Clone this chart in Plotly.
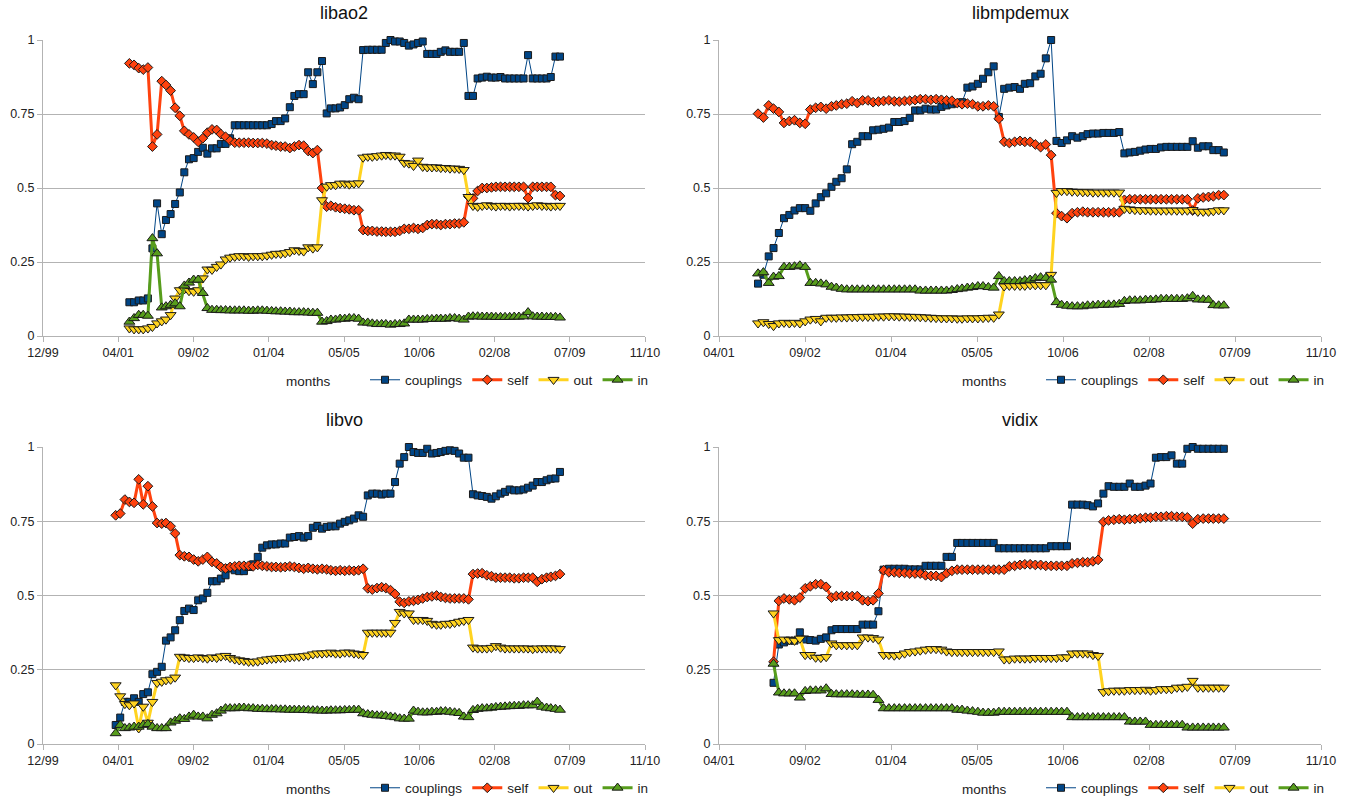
import pandas as pd
import plotly.graph_objects as go

# ---------------------------------------------------------------- data
TICK_LABELS = ["12/99", "04/01", "09/02", "01/04", "05/05", "10/06", "02/08", "07/09", "11/10"]
SERIES_NAMES = ["couplings", "self", "out", "in"]

# libao2: monthly from 2001-07
libao2_start = "2001-07-01"
libao2_couplings = [
    0.114, 0.114, 0.12, 0.12, 0.127,
    0.296, 0.448, 0.344, 0.392, 0.412, 0.446, 0.485,
    0.553, 0.597, 0.601, 0.622, 0.636, 0.616, 0.634, 0.634, 0.649, 0.649, 0.668,
    0.712, 0.712, 0.712, 0.712, 0.712, 0.712, 0.712, 0.712,
    0.716, 0.726, 0.726, 0.735,
    0.773, 0.811, 0.817, 0.817, 0.891, 0.851, 0.891, 0.929, 0.752,
    0.769, 0.769, 0.772, 0.78, 0.80, 0.805, 0.80,
    0.966, 0.967, 0.967, 0.967, 0.967,
    0.99, 1.0, 0.995, 0.995, 0.99, 0.981, 0.985, 0.99, 0.995,
    0.953, 0.953, 0.953, 0.96, 0.965, 0.96, 0.96, 0.96, 0.99,
    0.811, 0.811,
    0.87, 0.873, 0.876, 0.873, 0.873, 0.875, 0.87, 0.87, 0.87, 0.87, 0.87,
    0.949,
    0.87, 0.87, 0.87, 0.87, 0.875,
    0.944, 0.944,
]
libao2_self = [
    0.921, 0.916, 0.905, 0.90, 0.907,
    0.640, 0.681, 0.861, 0.848, 0.829, 0.771, 0.744, 0.693, 0.681, 0.671, 0.656, 0.668,
    0.687, 0.698, 0.696, 0.682, 0.673, 0.66,
    0.653, 0.653, 0.653, 0.653, 0.652, 0.652, 0.652, 0.65,
    0.645, 0.643, 0.64, 0.64, 0.635, 0.64, 0.645, 0.643, 0.625, 0.618, 0.628,
    0.5,
    0.437, 0.44, 0.435, 0.432, 0.43, 0.428, 0.425, 0.425,
    0.358, 0.355, 0.355, 0.353, 0.353, 0.352, 0.352, 0.352, 0.355,
    0.362, 0.362, 0.365, 0.362, 0.365,
    0.375, 0.378, 0.378, 0.375, 0.378, 0.378, 0.38, 0.38, 0.384,
    0.471, 0.465,
    0.49, 0.50, 0.50, 0.502, 0.504, 0.504, 0.504, 0.504, 0.504, 0.504, 0.504,
    0.466,
    0.504, 0.504, 0.504, 0.504, 0.504,
    0.476, 0.473,
]
libao2_out = [
    0.026, 0.023, 0.023, 0.023, 0.026,
    0.031, 0.043, 0.05, 0.056, 0.071, 0.127, 0.155, 0.158, 0.152, 0.15, 0.155, 0.195,
    0.225, 0.224, 0.234, 0.242, 0.259,
    0.265, 0.268, 0.27, 0.27, 0.268, 0.27, 0.27, 0.27, 0.272,
    0.275, 0.278, 0.278, 0.28, 0.284, 0.29, 0.288, 0.286, 0.3, 0.296, 0.3,
    0.459,
    0.505, 0.51, 0.51, 0.515, 0.515, 0.512, 0.515, 0.516,
    0.603, 0.606, 0.606, 0.608, 0.61, 0.612, 0.61, 0.61, 0.606,
    0.585, 0.583, 0.575, 0.593, 0.572,
    0.57, 0.57, 0.57, 0.568, 0.568, 0.566, 0.566, 0.565, 0.561,
    0.47,
    0.44, 0.437, 0.44, 0.442, 0.44, 0.438, 0.44, 0.44, 0.438, 0.44,
    0.44, 0.44, 0.438, 0.44, 0.442, 0.44, 0.44, 0.438, 0.44, 0.44,
]
libao2_in = [
    0.048, 0.06, 0.071, 0.071, 0.068,
    0.33, 0.279,
    0.096, 0.1, 0.105, 0.11, 0.10, 0.17, 0.18, 0.19, 0.19, 0.145, 0.094,
    0.088, 0.088, 0.087, 0.087, 0.086, 0.086, 0.086, 0.086, 0.085, 0.085, 0.086, 0.086, 0.085,
    0.084, 0.083, 0.083, 0.082, 0.082, 0.08, 0.08, 0.08, 0.079, 0.078, 0.078,
    0.048,
    0.05, 0.055, 0.055, 0.058, 0.058, 0.06, 0.06, 0.058,
    0.045, 0.045, 0.042, 0.04, 0.04, 0.04, 0.038, 0.04, 0.04, 0.042,
    0.055, 0.055, 0.055, 0.055, 0.057, 0.057, 0.058, 0.058, 0.058, 0.06, 0.06, 0.058, 0.055,
    0.065, 0.066, 0.066, 0.065, 0.065, 0.065, 0.064, 0.064, 0.064, 0.064, 0.065,
    0.065, 0.066, 0.08, 0.066, 0.065, 0.065, 0.064, 0.064, 0.064, 0.062,
]

# libmpdemux: monthly from 2001-12
libmpdemux_start = "2001-12-01"
libmpdemux_couplings = [
    0.177, 0.207, 0.269, 0.297, 0.348, 0.398, 0.409, 0.424, 0.432, 0.432, 0.423, 0.448,
    0.469, 0.482, 0.504, 0.521,
    0.533, 0.563, 0.648, 0.656, 0.675, 0.675, 0.695, 0.697, 0.70, 0.704, 0.723, 0.723,
    0.726, 0.737, 0.762, 0.762, 0.768, 0.765, 0.765, 0.774, 0.779, 0.783, 0.787, 0.79,
    0.839, 0.843, 0.852, 0.869, 0.891, 0.911, 0.74,
    0.835, 0.839, 0.841, 0.835, 0.852, 0.854, 0.877, 0.886, 0.938, 1.0,
    0.659, 0.652, 0.661, 0.675, 0.67, 0.675, 0.682, 0.684, 0.684, 0.686, 0.686, 0.686, 0.689,
    0.617, 0.62, 0.622, 0.626, 0.63, 0.632, 0.632, 0.637, 0.639, 0.639, 0.639, 0.639, 0.639,
    0.658, 0.636, 0.641, 0.641, 0.628, 0.628, 0.62,
]
libmpdemux_self = [
    0.751, 0.738, 0.779, 0.768, 0.757, 0.72, 0.726, 0.729, 0.72, 0.717, 0.765, 0.771,
    0.774, 0.768, 0.776, 0.779, 0.783, 0.785, 0.793, 0.787, 0.796, 0.796, 0.79,
    0.792, 0.794, 0.796, 0.793, 0.792, 0.794, 0.795, 0.797, 0.80, 0.80, 0.798, 0.80,
    0.798, 0.796, 0.795, 0.787, 0.783, 0.785, 0.783, 0.776, 0.776, 0.779, 0.776,
    0.734, 0.656, 0.652, 0.656, 0.659, 0.656, 0.656, 0.647, 0.638, 0.647, 0.611,
    0.415, 0.405, 0.398, 0.415, 0.418, 0.42, 0.418, 0.418, 0.418, 0.418, 0.418, 0.418, 0.418,
    0.46, 0.462, 0.462, 0.462, 0.462, 0.462, 0.462, 0.462, 0.462, 0.462, 0.462, 0.462, 0.462,
    0.424,
    0.465, 0.468, 0.47, 0.472, 0.476, 0.476,
]
libmpdemux_out = [
    0.043, 0.047, 0.041, 0.034, 0.043, 0.045, 0.043, 0.045, 0.043, 0.05, 0.056, 0.058,
    0.05, 0.062,
    0.062, 0.062, 0.063, 0.063, 0.064, 0.064, 0.065, 0.065, 0.065, 0.066, 0.066, 0.067,
    0.067, 0.066, 0.066, 0.065, 0.065, 0.064, 0.063, 0.062, 0.061, 0.06, 0.06, 0.06,
    0.059, 0.059, 0.06, 0.06, 0.06, 0.061, 0.062, 0.062,
    0.073,
    0.168, 0.17, 0.17, 0.17, 0.17, 0.172, 0.172, 0.172, 0.172,
    0.207,
    0.484, 0.49, 0.49, 0.488, 0.487, 0.486, 0.486, 0.485, 0.485, 0.485, 0.485, 0.485, 0.485,
    0.43, 0.428, 0.426, 0.425, 0.425, 0.424, 0.424, 0.424, 0.424, 0.424, 0.424, 0.424,
    0.424, 0.426, 0.42, 0.42, 0.42, 0.422, 0.425, 0.425,
]
libmpdemux_in = [
    0.211, 0.215, 0.179, 0.20, 0.202, 0.233, 0.233, 0.235, 0.238, 0.233, 0.179, 0.179,
    0.177, 0.174, 0.166, 0.163, 0.159,
    0.157, 0.157, 0.157, 0.157, 0.157, 0.157, 0.157, 0.157, 0.157, 0.157, 0.157, 0.157,
    0.157, 0.157,
    0.153, 0.153, 0.153, 0.153, 0.153, 0.153,
    0.155, 0.158, 0.16, 0.163, 0.165, 0.168, 0.168, 0.165, 0.163,
    0.202,
    0.185, 0.185, 0.185, 0.185, 0.188, 0.19, 0.195, 0.198, 0.196, 0.19,
    0.114, 0.105, 0.102, 0.1, 0.1, 0.1, 0.103, 0.103, 0.105, 0.105, 0.106, 0.106, 0.108,
    0.118, 0.12, 0.12, 0.12, 0.122, 0.122, 0.123, 0.125, 0.125, 0.125, 0.125, 0.125, 0.127,
    0.135,
    0.123, 0.123, 0.122, 0.104, 0.103, 0.103,
]

# libvo: monthly from 2001-04
libvo_start = "2001-04-01"
libvo_couplings = [
    0.064, 0.089, 0.142, 0.142, 0.154, 0.142, 0.168, 0.174, 0.235, 0.243, 0.26, 0.348,
    0.359, 0.383, 0.417, 0.448, 0.456, 0.451, 0.484, 0.49, 0.509, 0.548, 0.548, 0.557, 0.568,
    0.591, 0.585, 0.582, 0.582, 0.596, 0.605, 0.63, 0.661, 0.669, 0.672, 0.672, 0.675,
    0.675, 0.695, 0.697, 0.70, 0.695, 0.70, 0.728, 0.734, 0.725, 0.731, 0.733, 0.733,
    0.742, 0.748, 0.753, 0.759, 0.77, 0.765,
    0.837, 0.843, 0.843, 0.84, 0.843, 0.843,
    0.882, 0.944, 0.966, 1.0, 0.983, 0.98, 0.98, 0.994, 0.978, 0.98, 0.983, 0.987, 0.989,
    0.987, 0.978, 0.964, 0.964,
    0.841, 0.837, 0.835, 0.832, 0.826, 0.834, 0.843, 0.849, 0.857, 0.854, 0.854, 0.857,
    0.863, 0.87, 0.882, 0.882, 0.888, 0.893, 0.894, 0.916,
]
libvo_self = [
    0.770, 0.776, 0.823, 0.815, 0.812, 0.891, 0.807, 0.868, 0.80, 0.744, 0.742, 0.744,
    0.733, 0.709, 0.636, 0.632, 0.63, 0.621, 0.615, 0.621, 0.63, 0.613, 0.608, 0.596, 0.591,
    0.596, 0.598, 0.60, 0.60, 0.60, 0.598, 0.603, 0.60, 0.598, 0.596, 0.596, 0.595, 0.596,
    0.598, 0.596, 0.593, 0.59, 0.593, 0.59, 0.588, 0.59, 0.588, 0.585, 0.583, 0.585, 0.583,
    0.585, 0.583, 0.585, 0.59,
    0.524, 0.52, 0.525, 0.528, 0.525, 0.518,
    0.505, 0.479, 0.475, 0.48, 0.482, 0.485, 0.49, 0.495, 0.497, 0.50, 0.495, 0.492, 0.49,
    0.49, 0.49, 0.49, 0.487,
    0.572, 0.574, 0.575, 0.568, 0.565, 0.56, 0.56, 0.56, 0.56, 0.558, 0.558, 0.56, 0.56,
    0.56, 0.546, 0.555, 0.56, 0.563, 0.566, 0.572,
]
libvo_out = [
    0.198, 0.161, 0.135, 0.131, 0.137, 0.053, 0.126, 0.072, 0.142, 0.206, 0.21, 0.215,
    0.217, 0.224, 0.294,
    0.292, 0.29, 0.29, 0.292, 0.29, 0.288, 0.292, 0.29, 0.295, 0.297,
    0.29, 0.285, 0.282, 0.28, 0.277, 0.277, 0.278, 0.282,
    0.285, 0.287, 0.288, 0.29, 0.29, 0.292, 0.294, 0.294, 0.296, 0.298, 0.302, 0.305,
    0.305, 0.306, 0.308, 0.305, 0.305, 0.308, 0.308, 0.305, 0.303, 0.30,
    0.375, 0.375, 0.375, 0.375, 0.375, 0.375,
    0.408, 0.445, 0.44, 0.44,
    0.418, 0.418, 0.418, 0.415, 0.405, 0.402, 0.402, 0.405, 0.405, 0.408, 0.412, 0.415, 0.418,
    0.325, 0.322, 0.322, 0.322, 0.324, 0.33, 0.325, 0.322, 0.322, 0.322, 0.322, 0.322,
    0.322, 0.32, 0.322, 0.322, 0.322, 0.322, 0.322, 0.32,
]
libvo_in = [
    0.036, 0.064, 0.053, 0.055, 0.058, 0.058, 0.064, 0.067, 0.058, 0.053, 0.053, 0.053,
    0.072, 0.078, 0.086, 0.084, 0.092, 0.098, 0.092, 0.092, 0.086, 0.098, 0.103, 0.112,
    0.12, 0.12, 0.12, 0.122, 0.122, 0.12, 0.12, 0.118, 0.118, 0.117, 0.117, 0.117, 0.116,
    0.116, 0.115, 0.115, 0.115, 0.114, 0.114, 0.113, 0.113, 0.112, 0.112, 0.113, 0.113,
    0.113, 0.114, 0.114, 0.115, 0.115,
    0.103, 0.10, 0.098, 0.096, 0.096, 0.094, 0.092, 0.09, 0.086, 0.085, 0.085,
    0.112, 0.108, 0.106, 0.106, 0.108, 0.108, 0.11, 0.11, 0.108, 0.106, 0.104, 0.092, 0.09,
    0.114, 0.118, 0.12, 0.12, 0.122, 0.124, 0.125, 0.126, 0.127, 0.128, 0.128, 0.13, 0.13,
    0.13, 0.142, 0.125, 0.122, 0.12, 0.118, 0.115,
]

# vidix: monthly from 2002-03
vidix_start = "2002-03-01"
vidix_couplings = [
    0.206, 0.335, 0.342, 0.348, 0.348, 0.376, 0.352, 0.35, 0.348, 0.354, 0.359, 0.383,
    0.387, 0.387, 0.387, 0.387, 0.387, 0.402, 0.402, 0.402, 0.447,
    0.587, 0.59, 0.59, 0.59, 0.59, 0.588, 0.588, 0.588,
    0.60, 0.60, 0.60, 0.60,
    0.63, 0.63,
    0.677, 0.677, 0.677, 0.677, 0.677, 0.677, 0.677, 0.677,
    0.659, 0.659, 0.659, 0.659, 0.659, 0.659, 0.659, 0.659, 0.659, 0.659,
    0.666, 0.666, 0.666, 0.666,
    0.806, 0.806, 0.806, 0.804, 0.80,
    0.81, 0.843, 0.868, 0.866, 0.866, 0.866, 0.877, 0.866, 0.866, 0.87, 0.877,
    0.964, 0.966, 0.966, 0.972,
    0.944, 0.944,
    0.994, 1.0, 0.994, 0.994, 0.994, 0.994, 0.994, 0.994,
]
vidix_self = [
    0.277, 0.482, 0.49, 0.487, 0.484, 0.493, 0.524, 0.531, 0.538, 0.538, 0.529, 0.493,
    0.498, 0.498, 0.498, 0.498, 0.498, 0.484, 0.481, 0.484, 0.507,
    0.585, 0.578, 0.578, 0.576, 0.576, 0.574, 0.574, 0.574, 0.568, 0.566, 0.566, 0.562,
    0.575, 0.583, 0.587, 0.587, 0.587, 0.587, 0.587, 0.587, 0.587, 0.587, 0.587, 0.587,
    0.598, 0.60, 0.603, 0.605, 0.605, 0.603, 0.603, 0.60, 0.60, 0.60, 0.60, 0.60,
    0.608, 0.61, 0.612, 0.612, 0.615, 0.62,
    0.748, 0.753, 0.755, 0.757, 0.755, 0.757, 0.758, 0.76, 0.762, 0.762, 0.765, 0.765,
    0.767, 0.767, 0.765, 0.765, 0.763,
    0.742,
    0.757, 0.759, 0.759, 0.759, 0.759, 0.759,
]
vidix_out = [
    0.44, 0.35, 0.352, 0.35, 0.348, 0.355, 0.30, 0.30, 0.291, 0.29, 0.293, 0.339,
    0.333, 0.333, 0.333, 0.333, 0.333, 0.359, 0.359, 0.357, 0.352,
    0.30, 0.30, 0.298, 0.30, 0.305, 0.31, 0.312, 0.315, 0.318, 0.32, 0.32, 0.318,
    0.312, 0.31, 0.31, 0.31, 0.31, 0.31, 0.31, 0.31, 0.31, 0.31, 0.312,
    0.285, 0.285, 0.288, 0.288, 0.288, 0.288, 0.29, 0.29, 0.29, 0.29, 0.29, 0.292, 0.292,
    0.305, 0.305, 0.305, 0.305, 0.30, 0.297,
    0.175, 0.178, 0.18, 0.18, 0.18, 0.182, 0.182, 0.182, 0.183, 0.18, 0.182, 0.185,
    0.185, 0.185, 0.19, 0.19, 0.193,
    0.213,
    0.19, 0.19, 0.19, 0.19, 0.19, 0.19,
]
vidix_in = [
    0.27, 0.173, 0.17, 0.17, 0.17, 0.156, 0.178, 0.18, 0.18, 0.18, 0.187, 0.168,
    0.167, 0.167, 0.167, 0.167, 0.166, 0.166, 0.166, 0.165, 0.148,
    0.12, 0.12, 0.12, 0.12, 0.12, 0.12, 0.12, 0.12, 0.12, 0.12, 0.12, 0.12, 0.12, 0.12,
    0.115, 0.115, 0.112, 0.11, 0.108, 0.105, 0.105, 0.105,
    0.108, 0.108, 0.108, 0.108, 0.108, 0.108, 0.108, 0.108, 0.108, 0.108, 0.108, 0.108,
    0.108, 0.108,
    0.09, 0.09, 0.09, 0.09, 0.09, 0.09, 0.09, 0.09, 0.09, 0.09, 0.09,
    0.075, 0.075, 0.075, 0.075,
    0.064, 0.064, 0.064, 0.064, 0.064, 0.064, 0.064,
    0.055, 0.055, 0.055, 0.055, 0.055, 0.055, 0.055, 0.055,
]

# ---------------------------------------------------------------- styling
W, H = 1348, 797
COLORS = {"couplings": "#004586", "self": "#ff420e", "out": "#ffd320", "in": "#579d1c"}
SYMBOLS = {"couplings": "square", "self": "diamond", "out": "triangle-down", "in": "triangle-up"}
SIZES = {"couplings": 7, "self": 7.5, "out": 9.5, "in": 9.5}
WIDTHS = {"couplings": 1, "self": 3, "out": 3, "in": 3}
GRID = "#b3b3b3"
FONT = "Liberation Sans, Arial, sans-serif"

# date axis: ticks every 500 days starting 1999-12-05
tick_dates = [pd.Timestamp("1999-12-05") + pd.Timedelta(days=500 * k) for k in range(len(TICK_LABELS))]

# panel geometry in pixels: (left, right, top, bottom) of plot area, first tick index
panels = [
    ("libao2", libao2_start, [libao2_couplings, libao2_self, libao2_out, libao2_in], (43, 645, 40, 336), 0),
    ("libmpdemux", libmpdemux_start, [libmpdemux_couplings, libmpdemux_self, libmpdemux_out, libmpdemux_in], (719, 1321, 40, 336), 1),
    ("libvo", libvo_start, [libvo_couplings, libvo_self, libvo_out, libvo_in], (43, 645, 447, 744), 0),
    ("vidix", vidix_start, [vidix_couplings, vidix_self, vidix_out, vidix_in], (719, 1321, 447, 744), 1),
]

fig = go.Figure()
layout = dict(
    width=W, height=H,
    margin=dict(l=0, r=0, t=0, b=0, autoexpand=False),
    paper_bgcolor="white", plot_bgcolor="white",
    font=dict(family=FONT, size=12, color="#222"),
    annotations=[],
)

for k, (title, start, series, (x0, x1, y0, y1), t0) in enumerate(panels):
    n = k + 1
    xa = "x" if n == 1 else f"x{n}"
    ya = "y" if n == 1 else f"y{n}"
    leg = "legend" if n == 1 else f"legend{n}"
    dates = pd.date_range(start, periods=len(series[0]), freq="MS")
    for name, vals in zip(SERIES_NAMES, series):
        fig.add_trace(go.Scatter(
            x=dates, y=vals, name=name, mode="lines+markers",
            xaxis=xa, yaxis=ya, legend=leg, cliponaxis=False,
            line=dict(color=COLORS[name], width=WIDTHS[name]),
            marker=dict(symbol=SYMBOLS[name], size=SIZES[name], color=COLORS[name],
                        line=dict(color="#1a1a1a", width=1)),
        ))
    tv = tick_dates[t0:]
    tt = TICK_LABELS[t0:]
    layout["xaxis" if n == 1 else f"xaxis{n}"] = dict(
        domain=[x0 / W, x1 / W], anchor=ya, type="date", automargin=False,
        range=[tv[0], tv[-1]], tickmode="array", tickvals=tv, ticktext=tt,
        ticks="outside", ticklen=5, tickcolor=GRID, showline=True, linecolor=GRID,
        showgrid=False, zeroline=False, tickfont=dict(size=12.5, color="#222"),
    )
    layout["yaxis" if n == 1 else f"yaxis{n}"] = dict(
        domain=[1 - y1 / H, 1 - y0 / H], anchor=xa, range=[0, 1], automargin=False,
        tickmode="array", tickvals=[0, 0.25, 0.5, 0.75, 1], ticktext=["0", "0.25", "0.5", "0.75", "1"],
        ticks="outside", ticklen=5, tickcolor=GRID, showline=True, linecolor=GRID,
        showgrid=True, gridcolor=GRID, gridwidth=1, zeroline=False,
        tickfont=dict(size=12.5, color="#222"),
    )
    layout[leg] = dict(
        orientation="h", x=(x1 + 9) / W, xanchor="right", y=1 - (y1 + 44) / H, yanchor="middle",
        font=dict(size=13.5, color="#222"), itemwidth=30, bgcolor="rgba(0,0,0,0)",
        tracegroupgap=0,
    )
    layout["annotations"].append(dict(
        text=title, x=(x0 + x1) / 2 / W, y=1 - (y0 - 27) / H, xref="paper", yref="paper",
        showarrow=False, font=dict(size=18, color="#111"), xanchor="center", yanchor="middle",
    ))
    layout["annotations"].append(dict(
        text="months", x=(x0 + 265) / W, y=1 - (y1 + 45) / H, xref="paper", yref="paper",
        showarrow=False, font=dict(size=13.5, color="#222"), xanchor="center", yanchor="middle",
    ))

fig.update_layout(**layout)
fig.write_html("out.html")
